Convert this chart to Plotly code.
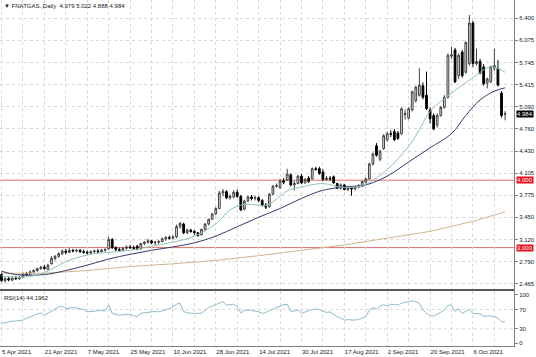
import plotly.graph_objects as go

# ---------------- data ----------------
opens = [2.60, 2.51, 2.54, 2.52, 2.55, 2.54, 2.56, 2.61, 2.60, 2.64, 2.66, 2.69,
         2.71, 2.68, 2.76, 2.84, 2.87, 2.91, 2.95, 2.93, 2.96, 2.95, 2.96, 2.94,
         2.93, 2.92, 2.94, 2.95, 2.94, 2.96, 2.98, 3.12, 3.00, 2.97, 2.96, 2.99,
         3.01, 3.00, 3.02, 2.98, 3.06, 3.08, 3.10, 3.07, 3.08, 3.09, 3.13, 3.15,
         3.14, 3.16, 3.31, 3.35, 3.22, 3.26, 3.24, 3.22, 3.19, 3.27, 3.35, 3.42,
         3.50, 3.58, 3.81, 3.83, 3.74, 3.75, 3.82, 3.76, 3.57, 3.69, 3.75, 3.73,
         3.74, 3.70, 3.63, 3.61, 3.79, 3.91, 3.89, 3.99, 4.00, 4.08, 3.93, 3.95,
         4.06, 3.96, 4.03, 4.02, 4.17, 4.17, 4.12, 4.01, 4.03, 4.05, 3.95, 3.88,
         3.93, 3.86, 3.89, 3.87, 3.90, 3.91, 3.97, 4.02, 4.24, 4.51, 4.31, 4.47,
         4.60, 4.69, 4.72, 4.70, 4.69, 4.97, 4.92, 5.04, 5.18, 5.26, 5.40, 5.26,
         5.04, 4.96, 4.82, 4.96, 5.08, 5.23, 5.84, 5.93, 5.55, 5.90, 5.60, 5.73,
         6.33, 5.73, 5.76, 5.68, 5.44, 5.46, 5.66, 5.66, 5.29, 4.979]
highs = [2.63, 2.56, 2.57, 2.57, 2.58, 2.58, 2.63, 2.64, 2.66, 2.68, 2.70, 2.73,
         2.74, 2.76, 2.87, 2.89, 2.93, 2.97, 2.98, 2.99, 2.98, 2.98, 2.98, 2.97,
         2.96, 2.96, 2.97, 2.98, 2.98, 2.99, 3.16, 3.14, 3.02, 3.00, 3.01, 3.03,
         3.04, 3.03, 3.04, 3.07, 3.10, 3.13, 3.11, 3.10, 3.11, 3.15, 3.17, 3.18,
         3.18, 3.34, 3.38, 3.37, 3.28, 3.28, 3.26, 3.23, 3.28, 3.36, 3.43, 3.51,
         3.60, 3.84, 3.87, 3.85, 3.79, 3.85, 3.86, 3.78, 3.71, 3.77, 3.78, 3.77,
         3.76, 3.72, 3.66, 3.81, 3.93, 3.95, 4.02, 4.03, 4.17, 4.10, 3.99, 4.08,
         4.09, 4.03, 4.06, 4.19, 4.20, 4.20, 4.16, 4.06, 4.06, 4.07, 3.96, 3.95,
         3.94, 3.91, 3.90, 3.92, 3.94, 3.99, 4.04, 4.26, 4.41, 4.55, 4.45, 4.68,
         4.72, 4.74, 4.76, 4.73, 5.08, 5.05, 5.08, 5.33, 5.40, 5.66, 5.45, 5.61,
         5.08, 4.99, 4.99, 5.10, 5.26, 5.88, 5.98, 5.96, 5.88, 5.93, 6.06, 6.45,
         6.36, 5.95, 5.80, 5.72, 5.52, 5.70, 5.95, 5.78, 5.32, 5.022]
lows = [2.49, 2.48, 2.50, 2.50, 2.52, 2.52, 2.55, 2.58, 2.59, 2.62, 2.64, 2.67,
        2.67, 2.66, 2.75, 2.81, 2.85, 2.89, 2.90, 2.92, 2.93, 2.93, 2.92, 2.91,
        2.90, 2.90, 2.92, 2.92, 2.93, 2.94, 2.97, 2.98, 2.95, 2.94, 2.95, 2.97,
        2.98, 2.97, 2.96, 2.97, 3.04, 3.06, 3.05, 3.04, 3.05, 3.08, 3.10, 3.12,
        3.12, 3.14, 3.28, 3.20, 3.20, 3.22, 3.19, 3.16, 3.18, 3.25, 3.33, 3.41,
        3.48, 3.57, 3.76, 3.72, 3.71, 3.73, 3.74, 3.54, 3.55, 3.68, 3.70, 3.70,
        3.67, 3.61, 3.57, 3.59, 3.78, 3.89, 3.87, 3.94, 3.99, 3.91, 3.85, 3.94,
        3.94, 3.95, 3.96, 4.01, 4.14, 4.08, 3.99, 3.99, 3.99, 3.95, 3.87, 3.86,
        3.85, 3.84, 3.77, 3.85, 3.88, 3.90, 3.95, 4.01, 4.22, 4.35, 4.28, 4.45,
        4.57, 4.64, 4.58, 4.60, 4.67, 4.90, 4.90, 5.02, 5.15, 5.24, 5.20, 5.04,
        4.84, 4.74, 4.78, 4.94, 5.06, 5.21, 5.80, 5.44, 5.50, 5.52, 5.58, 5.70,
        5.68, 5.70, 5.57, 5.40, 5.36, 5.44, 5.62, 5.39, 4.93, 4.888]
closes = [2.51, 2.54, 2.52, 2.55, 2.54, 2.56, 2.61, 2.60, 2.64, 2.66, 2.69, 2.71,
          2.69, 2.74, 2.84, 2.87, 2.91, 2.95, 2.93, 2.96, 2.95, 2.96, 2.94, 2.93,
          2.92, 2.94, 2.95, 2.94, 2.96, 2.97, 3.12, 3.00, 2.97, 2.96, 2.99, 3.01,
          3.00, 2.99, 2.98, 3.06, 3.08, 3.10, 3.07, 3.08, 3.09, 3.13, 3.15, 3.14,
          3.16, 3.31, 3.36, 3.22, 3.26, 3.24, 3.22, 3.18, 3.27, 3.35, 3.42, 3.50,
          3.58, 3.81, 3.83, 3.74, 3.76, 3.82, 3.76, 3.56, 3.69, 3.75, 3.73, 3.74,
          3.70, 3.63, 3.60, 3.79, 3.91, 3.92, 3.99, 3.97, 4.09, 3.93, 3.95, 4.06,
          3.96, 4.01, 3.98, 4.17, 4.16, 4.10, 4.01, 4.03, 4.02, 3.96, 3.88, 3.93,
          3.86, 3.89, 3.87, 3.90, 3.92, 3.98, 4.02, 4.24, 4.39, 4.37, 4.43, 4.66,
          4.69, 4.68, 4.60, 4.62, 5.06, 4.99, 5.06, 5.31, 5.38, 5.41, 5.23, 5.06,
          4.91, 4.76, 4.96, 5.08, 5.23, 5.85, 5.86, 5.46, 5.85, 5.55, 6.04, 6.33,
          5.73, 5.76, 5.59, 5.43, 5.50, 5.68, 5.70, 5.41, 4.96, 4.984]

rsi_values = [41, 43, 45, 46, 46, 47, 48, 52, 55, 58, 61, 63,
              58, 62, 66, 70, 75, 77, 72, 73, 74, 73, 71, 70,
              65, 66, 67, 67, 68, 67, 79, 62, 60, 58, 59, 60,
              60, 57, 55, 62, 63, 65, 65, 66, 65, 67, 70, 72,
              76, 81, 83, 66, 63, 62, 62, 62, 62, 68, 74, 77,
              80, 84, 86, 79, 80, 81, 76, 63, 68, 69, 68, 67,
              65, 62, 64, 68, 71, 74, 77, 80, 81, 66, 67, 69,
              62, 65, 68, 70, 71, 70, 66, 64, 65, 60, 55, 52,
              48, 49, 48, 48, 50, 52, 56, 68, 74, 71, 77, 80,
              77, 81, 80, 79, 83, 85, 86, 88, 86, 83, 69, 62,
              58, 56, 60, 65, 69, 79, 79, 66, 72, 62, 66, 70,
              62, 62, 61, 56, 56, 57, 55, 52, 45, 44.1962]

# moving averages read at sample bars
ma_fast_bars = [0, 6, 12, 18, 24, 30, 36, 42, 48, 54, 60, 64, 68, 72, 74, 77, 80,
                84, 90, 96, 102, 108, 114, 117, 120, 126, 132, 137, 141]
ma_fast_vals = [2.58, 2.56, 2.63, 2.79, 2.89, 2.93, 2.96, 3.02, 3.08, 3.17, 3.35,
                3.56, 3.64, 3.63, 3.62, 3.72, 3.84, 3.90, 3.95, 3.89, 3.94, 4.16,
                4.50, 4.75, 5.02, 5.29, 5.52, 5.68, 5.60]
ma_slow_bars = [0, 4, 12, 18, 24, 30, 36, 42, 48, 54, 60, 66, 72, 78, 84, 90, 96,
                102, 108, 114, 120, 126, 130, 134, 138, 141]
ma_slow_vals = [2.65, 2.60, 2.60, 2.66, 2.74, 2.83, 2.90, 2.96, 3.01, 3.07, 3.17,
                3.31, 3.45, 3.58, 3.73, 3.85, 3.90, 3.93, 4.06, 4.27, 4.48, 4.69,
                4.96, 5.19, 5.32, 5.37]
ma_long_bars = [0, 12, 24, 36, 48, 60, 72, 84, 96, 108, 120, 132, 141]
ma_long_vals = [2.62, 2.62, 2.66, 2.72, 2.76, 2.81, 2.88, 2.96, 3.04, 3.14, 3.24,
                3.39, 3.53]

level_lines = [4.000, 3.000]
last_price = 4.984

date_tick_bars = [0, 12, 24, 36, 48, 60, 72, 84, 96, 108, 120, 132]
date_tick_labels = ["5 Apr 2021", "21 Apr 2021", "7 May 2021", "25 May 2021",
                    "10 Jun 2021", "28 Jun 2021", "14 Jul 2021", "30 Jul 2021",
                    "17 Aug 2021", "2 Sep 2021", "20 Sep 2021", "6 Oct 2021"]
price_ticks = [2.465, 2.790, 3.120, 3.450, 3.775, 4.105, 4.430, 4.760,
               5.090, 5.415, 5.745, 6.075, 6.400]
rsi_ticks = [0, 30, 70, 100]

title_text = "\u25bc FNATGAS.,Daily  4.979 5.022 4.888 4.984"
rsi_title = "RSI(14) 44.1962"

# ---------------- figure ----------------
FONT = "Liberation Sans"
GRID = "#d8d8d8"
FRAME = "#808080"
TXT = "#202020"
bars = list(range(len(closes)))

fig = go.Figure()
fig.add_trace(go.Scatter(x=ma_long_bars, y=ma_long_vals, mode="lines",
                         line=dict(color="#d2b48c", width=1), hoverinfo="skip",
                         showlegend=False, xaxis="x", yaxis="y"))
fig.add_trace(go.Scatter(x=ma_slow_bars, y=ma_slow_vals, mode="lines",
                         line=dict(color="#3a3a72", width=1, shape="spline"), hoverinfo="skip",
                         showlegend=False, xaxis="x", yaxis="y"))
fig.add_trace(go.Scatter(x=ma_fast_bars, y=ma_fast_vals, mode="lines",
                         line=dict(color="#8cc4b4", width=1, shape="spline"), hoverinfo="skip",
                         showlegend=False, xaxis="x", yaxis="y"))
fig.add_trace(go.Candlestick(
    x=bars, open=opens, high=highs, low=lows, close=closes,
    increasing=dict(line=dict(color="#404040", width=1), fillcolor="#e8e8e8"),
    decreasing=dict(line=dict(color="#000000", width=1), fillcolor="#000000"),
    whiskerwidth=0, hoverinfo="skip", showlegend=False, xaxis="x", yaxis="y"))
fig.add_trace(go.Scatter(x=bars, y=rsi_values, mode="lines",
                         line=dict(color="#8dbccc", width=1), hoverinfo="skip",
                         showlegend=False, xaxis="x2", yaxis="y2"))

shapes = []
for lv in level_lines:
    shapes.append(dict(type="line", xref="x domain", yref="y", x0=0, x1=1, y0=lv, y1=lv,
                       line=dict(color="#e06a6a", width=1), layer="below"))
for lv in [30, 70]:
    shapes.append(dict(type="line", xref="x2 domain", yref="y2", x0=0, x1=1, y0=lv, y1=lv,
                       line=dict(color=GRID, width=1, dash="dot"), layer="below"))
# thick separator between the price window and the RSI window
shapes.append(dict(type="line", xref="paper", yref="paper", x0=0, x1=1,
                   y0=0.1618, y1=0.1618, line=dict(color="#5a5a5a", width=2)))

annotations = [
    dict(text=title_text, xref="paper", yref="paper", x=0.004, y=0.997,
         xanchor="left", yanchor="top", showarrow=False,
         font=dict(family=FONT, size=6, color=TXT)),
    dict(text=rsi_title, xref="x2 domain", yref="y2 domain", x=0.004, y=0.97,
         xanchor="left", yanchor="top", showarrow=False,
         font=dict(family=FONT, size=6, color=TXT)),
]
for lv in level_lines:
    annotations.append(dict(text="%.3f" % lv, xref="paper", yref="y", x=1.003, y=lv,
                            xanchor="left", yanchor="middle", showarrow=False,
                            bgcolor="#e8101c", borderpad=0,
                            font=dict(family=FONT, size=6, color="#ffffff")))
annotations.append(dict(text="%.3f" % last_price, xref="paper", yref="y", x=1.003, y=last_price,
                        xanchor="left", yanchor="middle", showarrow=False,
                        bgcolor="#000000", borderpad=0,
                        font=dict(family=FONT, size=6, color="#ffffff")))

xcommon = dict(range=[-0.42, 143.5], showgrid=True, gridcolor=GRID, griddash="dot",
               gridwidth=1, zeroline=False, showline=True, mirror=True,
               linecolor=FRAME, linewidth=1, fixedrange=True)

fig.update_layout(
    width=536, height=357,
    margin=dict(l=0, r=22, t=0, b=11),
    paper_bgcolor="#ffffff", plot_bgcolor="#ffffff",
    font=dict(family=FONT, size=6, color=TXT),
    showlegend=False,
    xaxis=dict(domain=[0, 1], anchor="y", tickmode="linear", tick0=0, dtick=6,
               showticklabels=False, ticks="", rangeslider=dict(visible=False),
               **xcommon),
    xaxis2=dict(domain=[0, 1], anchor="y2", matches="x", tickmode="array",
                tickvals=date_tick_bars, ticktext=date_tick_labels,
                ticklabelposition="outside right", ticks="",
                tickfont=dict(family=FONT, size=6, color=TXT),
                minor=dict(tickmode="linear", tick0=0, dtick=6, showgrid=True,
                           gridcolor=GRID, griddash="dot", gridwidth=1),
                **xcommon),
    yaxis=dict(domain=[0.1647, 1], anchor="x", side="right",
               range=[2.386, 6.672], tickmode="array", tickvals=price_ticks,
               ticktext=["%.3f" % v for v in price_ticks],
               ticks="outside", ticklen=3, tickcolor=FRAME,
               showgrid=True, gridcolor=GRID, griddash="dot", zeroline=False,
               showline=True, mirror=True, linecolor=FRAME, linewidth=1,
               tickfont=dict(family=FONT, size=6, color=TXT), fixedrange=True),
    yaxis2=dict(domain=[0, 0.159], anchor="x2", side="right",
                range=[-5.6, 108.3], tickmode="array", tickvals=rsi_ticks,
                ticks="outside", ticklen=3, tickcolor=FRAME,
                showgrid=False, zeroline=False,
                showline=True, mirror=True, linecolor=FRAME, linewidth=1,
                tickfont=dict(family=FONT, size=6, color=TXT), fixedrange=True),
    shapes=shapes,
    annotations=annotations,
)

fig.write_html("out.html", config={"displayModeBar": False})

# remove the browser's default page margin so the chart sits at (0, 0)
with open("out.html", "r", encoding="utf-8") as fh:
    html = fh.read()
html = html.replace("<head>", "<head><style>html,body{margin:0;padding:0;overflow:hidden;}</style>", 1)
with open("out.html", "w", encoding="utf-8") as fh:
    fh.write(html)
